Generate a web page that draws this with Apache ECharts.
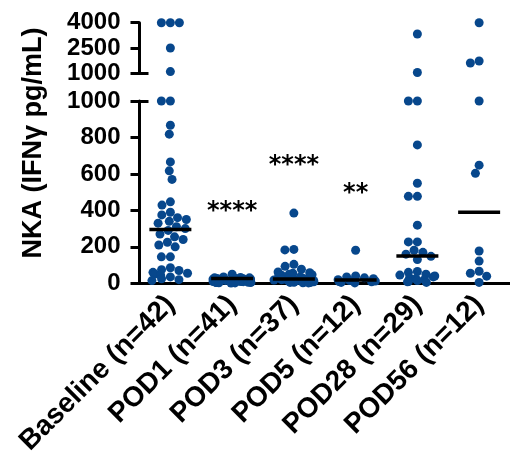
<!DOCTYPE html>
<html>
<head>
<meta charset="utf-8">
<script src="https://cdn.jsdelivr.net/npm/echarts@6/dist/echarts.min.js"></script>
<style>
html,body{margin:0;padding:0;background:#fff}
#chart{width:510px;height:472px}
</style>
</head>
<body>
<div id="chart"></div>
<script>
// groups on the x axis
var categories = ['Baseline (n=42)', 'POD1 (n=41)', 'POD3 (n=37)', 'POD5 (n=12)', 'POD28 (n=29)', 'POD56 (n=12)'];

// NKA values per group (pg/mL)
var baseline = [4000, 4000, 4000, 2500, 1100, 1000, 1000, 867, 818, 666, 617, 570, 447, 429, 390, 375, 360, 350, 340, 330, 310, 300, 290, 270, 255, 240, 225, 210, 200, 145, 145, 85, 75, 70, 60, 55, 50, 45, 35, 25, 20, 15];
var pod1 = [50, 35, 32, 30, 30, 28, 27, 25, 25, 24, 23, 22, 22, 21, 20, 20, 20, 19, 18, 18, 17, 16, 15, 15, 14, 13, 12, 12, 11, 10, 10, 9, 8, 7, 6, 5, 5, 4, 3, 2, 1];
var pod3 = [385, 186, 183, 104, 93, 77, 62, 58, 55, 50, 47, 44, 40, 38, 35, 33, 30, 28, 25, 23, 22, 20, 18, 16, 15, 14, 12, 11, 10, 9, 8, 7, 6, 5, 4, 3, 2];
var pod5 = [181, 40, 35, 30, 25, 20, 15, 12, 10, 8, 5, 2];
var pod28 = [3330, 1050, 1000, 1000, 759, 549, 477, 477, 319, 227, 227, 181, 170, 160, 148, 130, 65, 60, 50, 45, 40, 35, 30, 25, 20, 15, 10, 8, 5];
var pod56 = [4000, 1730, 1610, 1000, 648, 603, 177, 122, 66, 55, 39, 5];

// median bars
var medians = [295, 26, 24, 18, 150, 390];

// significance marks
var starText = ['', '****', '****', '**', '', ''];
var starValue = [null, 390, 645, 490, null, null];

// axis ticks
var lowerMax = 1000, lowerStep = 200;
var upperMin = 1000, upperMax = 4000, upperStep = 1500;

var groups = [baseline, pod1, pod3, pod5, pod28, pod56];
var upperData = [], lowerData = [];
groups.forEach(function (vals, i) {
    vals.forEach(function (v) {
        if (v > lowerMax) upperData.push([i, v]);
        else lowerData.push([i, v]);
    });
});

var dotColor = '#07478c';
var labelFont = 'Liberation Sans';
var plain = function (v) { return String(v); };

var myChart = echarts.init(document.getElementById('chart'));
var option = {
    backgroundColor: '#fff',
    animation: false,
    grid: [
        {left: 139.5, right: -4.5, top: 101, bottom: 188.7},   // lower 0-1000
        {left: 139.5, right: -4.5, top: 22.7, bottom: 398.7}   // upper 1000-4000
    ],
    graphic: [{
        type: 'text',
        x: 34, y: 143,
        rotation: Math.PI / 2,
        style: {
            text: 'NKA (IFNγ pg/mL)',
            fontFamily: labelFont, fontSize: 27, fontWeight: 'bold',
            fill: '#000', textAlign: 'center', textVerticalAlign: 'middle'
        }
    }],
    xAxis: [
        {
            type: 'category', gridIndex: 0, data: categories,
            jitter: 40, jitterOverlap: false, jitterMargin: 0,
            axisLine: {lineStyle: {color: '#000', width: 3}},
            axisTick: {alignWithLabel: true, length: 11, lineStyle: {color: '#000', width: 3}},
            axisLabel: {
                interval: 0, rotate: 45, margin: 17, color: '#000',
                fontFamily: labelFont, fontSize: 28, fontWeight: 'bold'
            }
        },
        {
            type: 'category', gridIndex: 1, data: categories,
            jitter: 40, jitterOverlap: false, jitterMargin: 0,
            axisLine: {show: false}, axisTick: {show: false}, axisLabel: {show: false}
        }
    ],
    yAxis: [
        {
            type: 'value', gridIndex: 0, min: 0, max: lowerMax, interval: lowerStep,
            splitLine: {show: false},
            axisLine: {show: true, lineStyle: {color: '#000', width: 3}},
            axisTick: {show: true, length: 9, lineStyle: {color: '#000', width: 3}},
            axisLabel: {margin: 19, color: '#000', fontFamily: labelFont, fontSize: 24, fontWeight: 'bold', formatter: plain}
        },
        {
            // break mark on the lower segment
            type: 'value', gridIndex: 0, min: 0, max: lowerMax, position: 'left',
            splitLine: {show: false}, axisLine: {show: false}, axisLabel: {show: false},
            axisTick: {show: true, inside: true, length: 9, customValues: [lowerMax], lineStyle: {color: '#000', width: 3}}
        },
        {
            type: 'value', gridIndex: 1, min: upperMin, max: upperMax, interval: upperStep,
            splitLine: {show: false},
            axisLine: {show: true, lineStyle: {color: '#000', width: 3}},
            axisTick: {show: true, length: 9, lineStyle: {color: '#000', width: 3}},
            axisLabel: {margin: 19, color: '#000', fontFamily: labelFont, fontSize: 24, fontWeight: 'bold', formatter: plain}
        },
        {
            // break mark on the upper segment
            type: 'value', gridIndex: 1, min: upperMin, max: upperMax, position: 'left',
            splitLine: {show: false}, axisLine: {show: false}, axisLabel: {show: false},
            axisTick: {show: true, inside: true, length: 9, customValues: [upperMin], lineStyle: {color: '#000', width: 3}}
        }
    ],
    series: [
        {
            name: 'lower', type: 'scatter', xAxisIndex: 0, yAxisIndex: 0,
            symbolSize: 9, clip: false,
            itemStyle: {color: dotColor, opacity: 1},
            data: lowerData
        },
        {
            name: 'upper', type: 'scatter', xAxisIndex: 1, yAxisIndex: 2,
            symbolSize: 9, clip: false,
            itemStyle: {color: dotColor, opacity: 1},
            data: upperData
        },
        {
            name: 'median', type: 'line', xAxisIndex: 0, yAxisIndex: 0,
            symbol: 'rect', symbolSize: [42, 3.5], showSymbol: true, z: 5,
            lineStyle: {width: 0, opacity: 0},
            itemStyle: {color: '#000'},
            data: medians
        },
        {
            name: 'stars', type: 'line', xAxisIndex: 0, yAxisIndex: 0,
            symbol: 'circle', symbolSize: 1, showSymbol: true,
            lineStyle: {width: 0, opacity: 0},
            itemStyle: {color: 'rgba(0,0,0,0)'},
            label: {
                show: true, position: 'inside', color: '#000',
                fontFamily: 'DejaVu Sans', fontSize: 24, fontWeight: 'bold',
                formatter: function (p) { return starText[p.dataIndex]; }
            },
            data: starValue
        }
    ]
};
myChart.setOption(option);
</script>
</body>
</html>
